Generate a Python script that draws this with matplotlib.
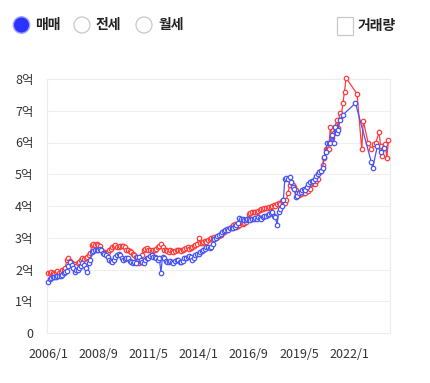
import matplotlib
matplotlib.use("Agg")
import matplotlib.pyplot as plt
from matplotlib.patches import Circle, Rectangle
import numpy as np

plt.rcParams['font.family'] = ['Noto Sans CJK KR', 'DejaVu Sans']

# ---- data (억 원), monthly from 2006/1 ----
red_monthly = (
    [1.90, 1.88, 1.92, 1.90, 1.87, 1.92, 1.95, 1.90, 1.93, 1.98, 2.00, 2.05] +  # 2006
    [2.30, 2.35, 2.28, 2.20, 2.15, 2.18, 2.12, 2.20, 2.25, 2.30, 2.35, 2.32] +  # 2007
    [2.36, 2.40, 2.45, 2.52, 2.77, 2.80, 2.78, 2.80, 2.77, 2.75, 2.62, 2.55] +  # 2008
    [2.55, 2.52, 2.55, 2.60, 2.65, 2.70, 2.75, 2.77, 2.72, 2.70, 2.75, 2.73] +  # 2009
    [2.75, 2.70, 2.62, 2.60, 2.58, 2.55, 2.50, 2.45, 2.40, 2.30, 2.20, 2.25] +  # 2010
    [2.45, 2.60, 2.65, 2.68, 2.60, 2.62, 2.58, 2.62, 2.60, 2.65, 2.70, 2.75] +  # 2011
    [2.80, 2.70, 2.62, 2.60, 2.58, 2.55, 2.60, 2.58, 2.55, 2.58, 2.60, 2.62] +  # 2012
    [2.60, 2.58, 2.62, 2.65, 2.68, 2.70, 2.65, 2.68, 2.72, 2.75, 2.78, 2.80] +  # 2013
    [3.00, 2.85, 2.83, 2.87, 2.90, 2.88, 2.92, 2.95, 2.98, 3.00, 3.02, 3.00] +  # 2014
    [3.02, 3.05, 3.10, 3.15, 3.18, 3.20, 3.25, 3.28, 3.32, 3.35, 3.40, 3.43] +  # 2015
    [3.35, 3.38, 3.40, 3.45, 3.42, 3.48, 3.50, 3.60, 3.75, 3.78, 3.80, 3.82] +  # 2016
    [3.80, 3.82, 3.85, 3.88, 3.90, 3.92, 3.95, 3.93, 3.95, 3.97, 3.98, 4.00] +  # 2017
    [4.02, 4.00, 4.05, 4.10, 4.05, 4.15, 4.20, 4.10, 4.20, 4.40, 4.65, 4.75] +  # 2018
    [4.66, 4.60, 4.50, 4.40, 4.35, 4.38, 4.45, 4.40, 4.42, 4.50, 4.48, 4.55] +  # 2019
    [4.70, 4.72, 4.70, 4.80, 4.85, 5.07, 5.10, 5.30, 5.50, 5.80, 5.75, 5.80] +  # 2020
    [6.50, 6.15, 6.30, 6.50, 6.70, 6.45, 6.93, 6.85, 7.25, 7.60, 8.03]          # 2021
)
red_late_months = [197, 200, 201, 204, 206, 208, 209, 211, 212, 213, 214, 215, 216, 217]
red_late_values = [7.53, 5.78, 6.68, 6.00, 5.80, 5.95, 6.00, 6.33, 5.90, 5.57, 5.83, 5.95, 5.50, 6.08]

blue_monthly = (
    [1.62, 1.70, 1.73, 1.75, 1.77, 1.76, 1.78, 1.80, 1.78, 1.82, 1.88, 1.92] +  # 2006
    [1.95, 2.10, 2.24, 2.14, 2.05, 1.92, 1.98, 2.00, 2.05, 2.10, 2.20, 2.15] +  # 2007
    [2.05, 1.92, 2.20, 2.30, 2.55, 2.58, 2.62, 2.60, 2.62, 2.63, 2.60, 2.52] +  # 2008
    [2.50, 2.45, 2.38, 2.30, 2.28, 2.24, 2.30, 2.40, 2.45, 2.50, 2.45, 2.35] +  # 2009
    [2.30, 2.32, 2.37, 2.35, 2.28, 2.24, 2.20, 2.25, 2.20, 2.40, 2.38, 2.30] +  # 2010
    [2.24, 2.22, 2.30, 2.37, 2.35, 2.42, 2.45, 2.40, 2.38, 2.37, 2.30, 2.35] +  # 2011
    [1.90, 2.40, 2.35, 2.28, 2.24, 2.25, 2.26, 2.24, 2.20, 2.28, 2.30, 2.30] +  # 2012
    [2.25, 2.24, 2.28, 2.37, 2.35, 2.40, 2.42, 2.38, 2.30, 2.35, 2.45, 2.50] +  # 2013
    [2.50, 2.55, 2.58, 2.62, 2.65, 2.70, 2.70, 2.68, 2.72, 2.80, 2.95, 3.00] +  # 2014
    [3.05, 3.10, 3.12, 3.18, 3.22, 3.24, 3.28, 3.25, 3.30, 3.32, 3.30, 3.34] +  # 2015
    [3.40, 3.45, 3.62, 3.60, 3.58, 3.56, 3.55, 3.58, 3.60, 3.56, 3.58, 3.60] +  # 2016
    [3.62, 3.58, 3.65, 3.62, 3.60, 3.65, 3.70, 3.68, 3.72, 3.75, 3.78, 3.80] +  # 2017
    [3.70, 3.65, 3.40, 3.80, 3.90, 4.00, 4.20, 4.85, 4.87, 4.85, 4.90, 4.75] +  # 2018
    [4.60, 4.55, 4.28, 4.30, 4.40, 4.45, 4.50, 4.55, 4.50, 4.60, 4.70, 4.76] +  # 2019
    [4.78, 4.80, 4.85, 4.95, 5.00, 5.07, 5.10, 5.20, 5.55, 5.70, 6.00, 6.00] +  # 2020
    [6.00, 6.24, 6.00, 6.50, 6.30, 6.40, 6.70]                                  # 2021
)
blue_late_months = [188, 196, 206, 207, 210, 212, 214]
blue_late_values = [6.87, 7.24, 5.40, 5.20, 5.90, 5.70, 5.82]

tick_months = [0, 32, 64, 96, 128, 160, 192]
tick_labels = ["2006/1", "2008/9", "2011/5", "2014/1", "2016/9", "2019/5", "2022/1"]
y_ticks = [0, 1, 2, 3, 4, 5, 6, 7, 8]
y_labels = ["0", "1억", "2억", "3억", "4억", "5억", "6억", "7억", "8억"]

legend_items = ["매매", "전세", "월세"]
volume_label = "거래량"

red_x = list(range(len(red_monthly))) + red_late_months
red_y = list(red_monthly) + red_late_values
blue_x = list(range(len(blue_monthly))) + blue_late_months
blue_y = list(blue_monthly) + blue_late_values

RED = "#ff3b3b"
BLUE = "#4a55f5"

W, H = 431, 383
fig = plt.figure(figsize=(W / 100, H / 100), dpi=100)

ax = fig.add_axes([47.5 / W, (H - 333) / H, (390 - 47.5) / W, (333 - 79) / H])
ax.set_xlim(-0.3, 218)
ax.set_ylim(0, 8)
for s in ax.spines.values():
    s.set_color("#ececec")
    s.set_linewidth(0.8)
ax.set_yticks(y_ticks)
ax.set_yticklabels(y_labels)
ax.set_xticks(tick_months)
ax.set_xticklabels(tick_labels)
ax.tick_params(axis="both", length=0, labelsize=9, colors="#333333")
ax.tick_params(axis="y", pad=10)
ax.tick_params(axis="x", pad=11)
ax.grid(axis="y", color="#efefef", linewidth=0.8)
ax.set_axisbelow(True)

ax.plot(red_x, red_y, color=RED, lw=0.9, marker="o", ms=3.2, mew=0.9,
        mfc="white", mec=RED, clip_on=False, zorder=3)
ax.plot(blue_x, blue_y, color=BLUE, lw=0.9, marker="o", ms=3.2, mew=0.9,
        mfc="white", mec=BLUE, clip_on=False, zorder=4)

# ---- header controls ----
ov = fig.add_axes([0, 0, 1, 1], zorder=-1)
ov.set_xlim(0, W)
ov.set_ylim(H, 0)
ov.axis("off")

cy = 25
radio_x = [21.5, 82, 144]
text_x = [35, 96, 158]
for i, (rx, tx, lab) in enumerate(zip(radio_x, text_x, legend_items)):
    if i == 0:
        ov.add_patch(Circle((rx, cy), 8.2, facecolor="#2b33ff", edgecolor="#9aa2ff", lw=1.0))
    else:
        ov.add_patch(Circle((rx, cy), 8.0, facecolor="white", edgecolor="#c8c8c8", lw=0.9))
    ov.text(tx, cy, lab, ha="left", va="center", fontsize=10, fontweight="bold", color="#222222")

ov.add_patch(Rectangle((337, 17), 16.5, 17.5, facecolor="white", edgecolor="#c8c8c8", lw=0.9))
ov.text(358, cy + 0.5, volume_label, ha="left", va="center", fontsize=10, fontweight="bold", color="#222222")

fig.savefig("out.png", dpi=100)
